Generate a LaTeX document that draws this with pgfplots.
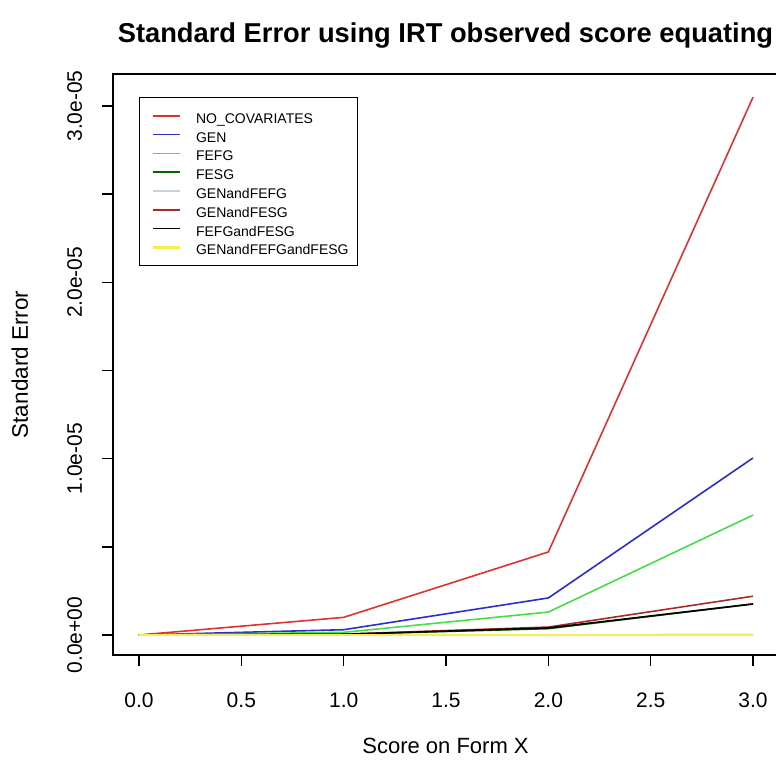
\documentclass[border=0pt]{standalone}
\usepackage{pgfplots}
\pgfplotsset{compat=1.18}
\usepackage{fontspec}
\setmainfont{Liberation Sans}
\definecolor{cRed}{RGB}{222,50,50}
\definecolor{cBlue}{RGB}{45,45,205}
\definecolor{cGreen}{RGB}{70,222,70}
\definecolor{cDkGreen}{RGB}{0,100,0}
\definecolor{cLtBlue}{RGB}{198,210,220}
\definecolor{cBrown}{RGB}{165,42,42}
\definecolor{cYellow}{RGB}{240,240,80}
\begin{document}
\begin{tikzpicture}[x=1pt,y=1pt]
\begin{axis}[
  at={(113pt,112pt)}, anchor=south west,
  scale only axis, width=665pt, height=581pt,
  xmin=-0.127, xmax=3.122, ymin=-0.1134e-5, ymax=3.1815e-5,
  axis line style={line width=1.4pt},
  tick pos=left, tick align=outside,
  major tick length=11pt,
  every tick/.style={line width=1.4pt, black},
  xtick={0,0.5,1,1.5,2,2.5,3},
  xticklabels={0.0,0.5,1.0,1.5,2.0,2.5,3.0},
  ytick={0,5e-6,1e-5,1.5e-5,2e-5,2.5e-5,3e-5},
  yticklabels={0.0e+00,,1.0e-05,,2.0e-05,,3.0e-05},
  scaled y ticks=false,
  ticklabel style={font=\fontsize{21}{24}\selectfont},
  xticklabel style={anchor=base, yshift=-42pt},
  yticklabel style={xshift=-20pt, rotate=90, anchor=base},
  xlabel={Score on Form X},
  xlabel style={at={(axis description cs:0.5,-0.1687)}, anchor=base, font=\fontsize{22}{24}\selectfont},
  ylabel={Standard Error},
  ylabel style={at={(axis description cs:-0.128,0.5)}, anchor=base, rotate=0, font=\fontsize{22.5}{24}\selectfont},
  title={Standard Error using IRT observed score equating},
  title style={at={(axis description cs:0.5,1.044)}, anchor=base, font=\fontsize{27.3}{30}\selectfont\bfseries},
  legend style={at={(rel axis cs:0.0392,0.960)}, anchor=north west,
    draw=black, line width=1.2pt, inner xsep=7pt, inner ysep=8.5pt,
    font=\fontsize{14}{16}\selectfont, column sep=13pt,
    nodes={inner xsep=2pt, inner ysep=0pt, text height=16.9pt, text depth=1.9pt}},
  legend cell align=left,
  legend image code/.code={\path (0pt,0pt); \draw[#1] (5pt,0pt) -- (32pt,0pt);},
  every axis plot/.append style={line width=1.6pt},
]
\addplot[cRed] coordinates {(0,0) (1,0.10e-5) (2,0.471e-5) (3,3.05e-5)};
\addlegendentry{NO\_COVARIATES}
\addplot[cBlue] coordinates {(0,0) (1,0.03e-5) (2,0.21e-5) (3,1.004e-5)};
\addlegendentry{GEN}
\addplot[cGreen] coordinates {(0,0) (1,0.015e-5) (2,0.13e-5) (3,0.68e-5)};
\addlegendentry{FEFG}
\addplot[cDkGreen] coordinates {(0,0) (1,0.004e-5) (2,0.036e-5) (3,0.176e-5)};
\addlegendentry{FESG}
\addplot[cLtBlue] coordinates {(0,0) (1,0.001e-5) (2,0.002e-5) (3,0.003e-5)};
\addlegendentry{GENandFEFG}
\addplot[cBrown] coordinates {(0,0) (1,0.005e-5) (2,0.045e-5) (3,0.22e-5)};
\addlegendentry{GENandFESG}
\addplot[black] coordinates {(0,0) (1,0.004e-5) (2,0.04e-5) (3,0.176e-5)};
\addlegendentry{FEFGandFESG}
\addplot[cYellow, line width=2.4pt] coordinates {(0,0) (1,0) (2,0) (3,0)};
\addlegendentry{GENandFEFGandFESG}
\end{axis}
\pgfresetboundingbox
\useasboundingbox (0,0) rectangle (776,767);
\end{tikzpicture}
\end{document}
